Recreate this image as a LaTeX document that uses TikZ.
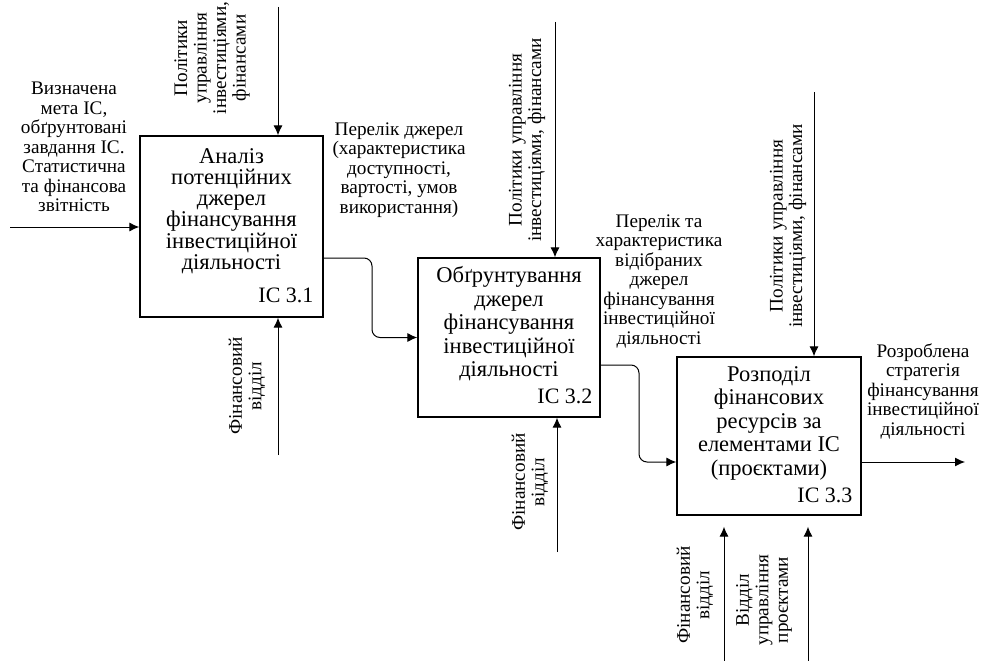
\documentclass[tikz,border=0pt]{standalone}
\usepackage{fontspec}
\setmainfont{Liberation Serif}
\usepackage{tikz}
\usetikzlibrary{positioning, calc, arrows.meta}

\begin{document}
\begin{tikzpicture}[x=1pt, y=-1pt]
        \tikzset{ fn/.style   ={draw, line width=1.3pt, rounded corners=0pt} }
        \tikzset{ fntxt/.style={align=center, inner sep=0pt, font=\fontsize{22.5}{23.5}\selectfont} }
        \tikzset{ fnid/.style ={anchor=base east, inner sep=0pt, font=\fontsize{22}{23}\selectfont} }
        \tikzset{ lbl/.style  ={align=center, inner sep=0pt, font=\fontsize{19.2}{19.5}\selectfont} }
        \tikzset{ rlbl/.style ={lbl, rotate=90} }
        \tikzset{ flow/.style ={->, >={Latex[length=10pt, width=9pt]}, line width=1pt} }

        \useasboundingbox (0,0) rectangle (985,661);

        % blocks
        \node[fn, minimum width=183pt, minimum height=181pt] (fn1) at (231.5, 226.5) {};
        \node[fn, minimum width=182pt, minimum height=159pt] (fn2) at (509.0, 337.5) {};
        \node[fn, minimum width=184pt, minimum height=158pt] (fn3) at (769.0, 436.0) {};

        \node[fntxt, font=\fontsize{22.5}{21.2}\selectfont] (fn1_t) at (231.5, 211) {Аналіз\\потенційних\\джерел\\фінансування\\інвестиційної\\діяльності};
        \node[fntxt] (fn2_t) at (509.0, 324) {Обґрунтування\\джерел\\фінансування\\інвестиційної\\діяльності};
        \node[fntxt] (fn3_t) at (769.0, 423) {Розподіл\\фінансових\\ресурсів за\\елементами ІС\\(проєктами)};

        \node[fnid] (fn1_id) at ($(fn1.south east)+(-10,-15)$) {ІС 3.1};
        \node[fnid] (fn2_id) at ($(fn2.south east)+(-8,-14)$)  {ІС 3.2};
        \node[fnid] (fn3_id) at ($(fn3.south east)+(-9,-13)$)  {ІС 3.3};

        % free ends
        \coordinate (in1)  at (10, 227);
        \coordinate (c1)   at (278, 7);
        \coordinate (m1)   at (278, 455);
        \coordinate (o1)   at (372, 258);
        \coordinate (c2)   at (555, 22);
        \coordinate (m2)   at (557, 552);
        \coordinate (o2)   at (639, 365);
        \coordinate (c3)   at (814, 92);
        \coordinate (out3) at (965, 462);
        \coordinate (m3a)  at (724, 661);
        \coordinate (m3b)  at (808, 661);

        \draw[flow] (in1) -- (in1 -| fn1.west);
        \draw[flow] (c1) -- (c1 |- fn1.north);
        \draw[flow] (m1) -- (m1 |- fn1.south);
        \draw[flow, rounded corners=8pt] (o1 -| fn1.east) -- (o1) |- (fn2.west);

        \draw[flow] (c2) -- (c2 |- fn2.north);
        \draw[flow] (m2) -- (m2 |- fn2.south);
        \draw[flow, rounded corners=8pt] (o2 -| fn2.east) -- (o2) |- (fn3.west |- out3);

        \draw[flow] (c3) -- (c3 |- fn3.north);
        \draw[flow] (fn3.east |- out3) -- (out3);
        \draw[flow] (m3a) -- ($(m3a |- fn3.south)+(0,11)$);
        \draw[flow] (m3b) -- ($(m3b |- fn3.south)+(0,11)$);

        % labels
        \node[lbl]  (in1_l) at (74, 147)  {Визначена\\мета ІС,\\обґрунтовані\\завдання ІС.\\Статистична\\та фінансова\\звітність};
        \node[rlbl] (c1_l)  at (212, 58)  {Політики\\управління\\інвестиціями,\\фінансами};
        \node[rlbl] (m1_l)  at (247, 386) {Фінансовий\\відділ};
        \node[lbl]  (o1_l)  at (399, 170) {Перелік джерел\\(характеристика\\доступності,\\вартості, умов\\використання)};

        \node[rlbl] (c2_l)  at (527, 140) {Політики управління\\інвестиціями, фінансами};
        \node[rlbl] (m2_l)  at (530, 482) {Фінансовий\\відділ};
        \node[lbl]  (o2_l)  at (659, 281) {Перелік та\\характеристика\\відібраних\\джерел\\фінансування\\інвестиційної\\діяльності};

        \node[rlbl] (c3_l)  at (788, 226) {Політики управління\\інвестиціями, фінансами};
        \node[lbl]  (o3_l)  at (923, 391) {Розроблена\\стратегія\\фінансування\\інвестиційної\\діяльності};
        \node[rlbl] (m3a_l) at (695, 595) {Фінансовий\\відділ};
        \node[rlbl] (m3b_l) at (764, 600) {Відділ\\управління\\проєктами};
\end{tikzpicture}
\end{document}
